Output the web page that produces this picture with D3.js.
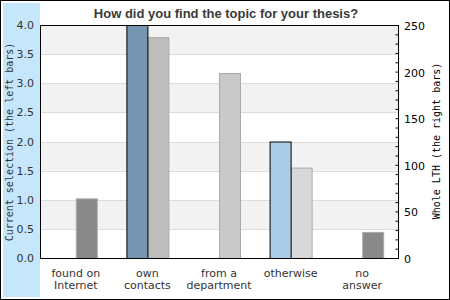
<!DOCTYPE html>
<html><head><meta charset="utf-8">
<script src="https://cdn.jsdelivr.net/npm/d3@7"></script>
<style>body{margin:0;background:#fff}svg{display:block}</style>
</head><body>
<script>
const categories = [["found on","Internet"],["own","contacts"],["from a","department"],["otherwise"],["no","answer"]];
const leftValues = [0, 4.0, 0, 2.0, 0];
const rightValues = [64, 237, 198.5, 97, 28];
const leftColors = ["#7595b0","#7595b0","#7595b0","#abcde8","#7595b0"];
const rightColors = ["#898989","#bdbdbd","#c9c9c9","#d8d8d8","#898989"];
const leftTicks = [0,0.5,1,1.5,2,2.5,3,3.5,4];
const rightTicks = [0,50,100,150,200,250];

const W=450,H=300, L=40,R=398,T=25,B=258;
const svg=d3.select("body").append("svg").attr("width",W).attr("height",H);
svg.append("rect").attr("x",0.5).attr("y",0.5).attr("width",W-1).attr("height",H-1).attr("fill","#fff").attr("stroke","#000");
svg.append("rect").attr("x",3).attr("y",3).attr("width",37).attr("height",294).attr("fill","#c6e6fb");

const x=d3.scaleBand().domain(d3.range(categories.length)).range([L,R]);
const yL=d3.scaleLinear().domain([0,4]).range([B,T]);
const yR=d3.scaleLinear().domain([0,250]).range([B,T]);

// bands
const g=svg.append("g");
for(let i=0;i<8;i++){
  const v0=i*0.5, v1=v0+0.5;
  g.append("rect").attr("x",L).attr("width",R-L).attr("y",yL(v1)).attr("height",yL(v0)-yL(v1))
   .attr("fill", i%2===1?"#f2f2f2":"#fff");
}
leftTicks.forEach(t=>{ if(t>0&&t<4) g.append("line").attr("x1",L).attr("x2",R).attr("y1",Math.round(yL(t))+0.5).attr("y2",Math.round(yL(t))+0.5).attr("stroke","#dcdcdc");});

const bw=21;
// right bars
svg.append("g").selectAll("rect").data(rightValues).join("rect")
 .attr("x",(d,i)=>x(i)+x.bandwidth()/2+0.5).attr("width",bw)
 .attr("y",d=>yR(d)+0.5).attr("height",d=>B-yR(d))
 .attr("fill",(d,i)=>rightColors[i]).attr("stroke","#aaaaaa");
// left bars
svg.append("g").selectAll("rect").data(leftValues).join("rect")
 .attr("x",(d,i)=>x(i)+x.bandwidth()/2-bw+0.5).attr("width",bw)
 .attr("y",d=>yL(d)+0.5).attr("height",d=>B-yL(d))
 .attr("fill",(d,i)=>leftColors[i]).attr("stroke","#000").attr("display",d=>d>0?null:"none");

// frame
svg.append("rect").attr("x",L+0.5).attr("y",T+0.5).attr("width",R-L).attr("height",B-T).attr("fill","none").attr("stroke","#000");

// left tick labels
svg.append("g").selectAll("text").data(leftTicks).join("text")
 .attr("x",34).attr("y",d=>yL(d)+4).attr("text-anchor","end")
 .attr("font-family","DejaVu Sans").attr("font-size",11).attr("fill","#333")
 .text(d=>d.toFixed(1));
// right axis ticks
const rAx=d3.axisLeft(yR).tickValues(d3.range(0,251,10)).tickSize(3).tickFormat("");
const ra=svg.append("g").attr("transform",`translate(${R+0.5},0)`).call(rAx);
ra.select(".domain").remove();
ra.selectAll("line").attr("stroke","#000");
svg.append("g").selectAll("text").data(rightTicks).join("text")
 .attr("x",404).attr("y",d=>yR(d)+5).attr("text-anchor","start")
 .attr("font-family","DejaVu Sans").attr("font-size",11).attr("fill","#000")
 .text(d=>d);

// category labels
const cl=svg.append("g");
categories.forEach((c,i)=>{
  c.forEach((s,j)=>{
    cl.append("text").attr("x",x(i)+x.bandwidth()/2).attr("y",277+j*12).attr("text-anchor","middle")
     .attr("font-family","DejaVu Sans").attr("font-size",11).attr("fill","#333").text(s);
  });
});

// title
svg.append("text").attr("x",226).attr("y",18).attr("text-anchor","middle")
 .attr("font-family","Liberation Sans").attr("font-weight","bold").attr("font-size",13).attr("fill","#3a3a3a")
 .text("How did you find the topic for your thesis?");

// axis titles
svg.append("text").attr("transform","translate(13,142) rotate(-90)").attr("text-anchor","middle")
 .attr("font-family","DejaVu Sans Mono").attr("font-size",10).attr("fill","#333")
 .text("Current selection (the left bars)");
svg.append("text").attr("transform","translate(440,141) rotate(-90)").attr("text-anchor","middle")
 .attr("font-family","DejaVu Sans Mono").attr("font-size",10).attr("fill","#000")
 .text("Whole LTH (the right bars)");
</script>
</body></html>
